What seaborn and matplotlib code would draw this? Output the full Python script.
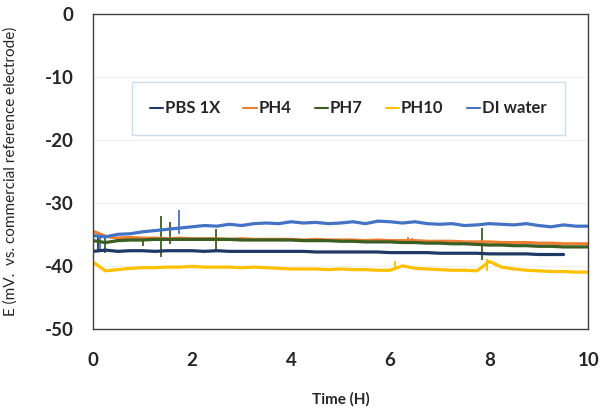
import numpy as np
import pandas as pd
import matplotlib
matplotlib.use("Agg")
import matplotlib.pyplot as plt
import seaborn as sns

# time grid (hours)
hours = [0.0, 0.25, 0.5, 0.75, 1.0, 1.25, 1.5, 1.75, 2.0, 2.25, 2.5, 2.75,
         3.0, 3.25, 3.5, 3.75, 4.0, 4.25, 4.5, 4.75, 5.0, 5.25, 5.5, 5.75,
         6.0, 6.25, 6.5, 6.75, 7.0, 7.25, 7.5, 7.75, 8.0, 8.25, 8.5, 8.75,
         9.0, 9.25, 9.5, 9.75, 10.0]

pbs = [-37.7, -37.5, -37.7, -37.6, -37.6, -37.7, -37.6, -37.6, -37.6, -37.7, -37.6, -37.7,
       -37.7, -37.7, -37.7, -37.7, -37.7, -37.7, -37.8, -37.8, -37.8, -37.8, -37.8, -37.8,
       -37.9, -37.9, -37.9, -37.9, -38.0, -38.0, -38.0, -38.0, -38.1, -38.1, -38.1, -38.1,
       -38.2, -38.2, -38.2, np.nan, np.nan]
ph4 = [-34.5, -35.3, -35.6, -35.5, -35.6, -35.6, -35.7, -35.6, -35.7, -35.7, -35.7, -35.8,
       -35.7, -35.8, -35.8, -35.8, -35.8, -35.9, -35.8, -35.9, -35.9, -35.9, -36.0, -35.9,
       -36.0, -36.0, -36.0, -36.1, -36.1, -36.1, -36.2, -36.2, -36.2, -36.3, -36.3, -36.3,
       -36.4, -36.4, -36.5, -36.5, -36.5]
ph7 = [-36.0, -36.3, -36.0, -35.9, -35.9, -35.8, -35.8, -35.8, -35.8, -35.8, -35.8, -35.8,
       -35.9, -35.9, -35.9, -35.9, -35.9, -36.0, -36.0, -36.0, -36.1, -36.1, -36.2, -36.2,
       -36.2, -36.3, -36.3, -36.4, -36.4, -36.5, -36.5, -36.6, -36.7, -36.7, -36.8, -36.8,
       -36.9, -36.9, -37.0, -37.0, -37.0]
ph10 = [-39.4, -40.8, -40.6, -40.4, -40.3, -40.3, -40.2, -40.2, -40.1, -40.2, -40.2, -40.2,
        -40.3, -40.2, -40.3, -40.4, -40.5, -40.5, -40.5, -40.6, -40.5, -40.6, -40.6, -40.7,
        -40.7, -40.0, -40.4, -40.5, -40.6, -40.7, -40.7, -40.8, -39.3, -40.2, -40.5, -40.7,
        -40.8, -40.9, -40.9, -41.0, -41.0]
di_water = [-35.2, -35.4, -35.0, -34.9, -34.6, -34.4, -34.2, -34.0, -33.8, -33.6, -33.7, -33.4,
            -33.6, -33.3, -33.2, -33.3, -33.0, -33.2, -33.1, -33.3, -33.2, -33.0, -33.3, -32.9,
            -33.0, -33.2, -33.0, -33.3, -33.4, -33.3, -33.6, -33.5, -33.3, -33.4, -33.5, -33.3,
            -33.6, -33.8, -33.5, -33.7, -33.7]

# short spikes seen in the traces: series, time, low, high
spike_series = ["PH7", "PH7", "PH7", "PH7", "PH7", "PH7", "DI water", "DI water", "PBS 1X", "PH10", "PH10", "PH4", "PH4"]
spike_t = [0.25, 1.0, 1.38, 1.55, 2.48, 7.85, 0.15, 1.74, 0.1, 6.1, 7.95, 6.35, 6.45]
spike_lo = [-37.9, -36.8, -38.6, -36.6, -37.7, -39.0, -37.3, -35.0, -37.8, -40.7, -40.8, -36.0, -36.0]
spike_hi = [-35.6, -35.6, -32.1, -33.0, -34.2, -34.0, -35.0, -31.2, -34.6, -39.2, -38.9, -35.4, -35.5]

names = ["PBS 1X", "PH4", "PH7", "PH10", "DI water"]
colors = {"PBS 1X": "#1F3864", "PH4": "#ED7D31", "PH7": "#3B5E22",
          "PH10": "#FFC000", "DI water": "#4472C4"}

df = pd.DataFrame({
    "Time": hours * 5,
    "E": pbs + ph4 + ph7 + ph10 + di_water,
    "Series": sum([[n] * len(hours) for n in names], []),
})

sns.set_style("white")
plt.rcParams["font.family"] = ["Lato", "DejaVu Sans"]
plt.rcParams["axes.unicode_minus"] = False

fig = plt.figure(figsize=(6.04, 4.11), dpi=100)
ax = fig.add_axes([0.154, 0.200, 0.820, 0.766])

for s, t, lo, hi in zip(spike_series, spike_t, spike_lo, spike_hi):
    ax.vlines(t, lo, hi, color=colors[s], lw=1.3, zorder=2)

sns.lineplot(data=df, x="Time", y="E", hue="Series", hue_order=names,
             palette=colors, estimator=None, linewidth=2.3, ax=ax, legend=False)

ax.set_xlim(0, 10)
ax.set_ylim(-50, 0)
ax.set_xticks([0, 2, 4, 6, 8, 10])
ax.set_yticks([0, -10, -20, -30, -40, -50])
ax.grid(axis="y", color="#EFEFEF", lw=0.8)
ax.grid(axis="x", visible=False)
for sp in ax.spines.values():
    sp.set_color("#404040")
    sp.set_linewidth(1.0)
ax.tick_params(axis="x", length=0, pad=17, labelsize=13.5)
ax.tick_params(axis="y", length=0, pad=14, labelsize=13.5)
for lab in ax.get_xticklabels() + ax.get_yticklabels():
    lab.set_fontweight("bold")

ax.set_xlabel("Time (H)", fontsize=11, fontweight="bold")
ax.set_ylabel("E (mV.  vs. commercial reference electrode)", fontsize=11)
ax.xaxis.set_label_coords(0.5, -0.20)
ax.yaxis.set_label_coords(-0.152, 0.5)

handles = [plt.Line2D([], [], color=colors[n], lw=1.5) for n in names]
leg = ax.legend(handles, names, loc="center", bbox_to_anchor=(0.515, 0.70), ncol=5,
                frameon=True, fancybox=False, handlelength=0.8, handletextpad=0.1,
                columnspacing=1.4, borderpad=1.1, prop={"weight": "bold", "size": 12})
leg.get_frame().set_edgecolor("#BDD7EE")
leg.get_frame().set_linewidth(1.0)

fig.savefig("out.png", dpi=100)
